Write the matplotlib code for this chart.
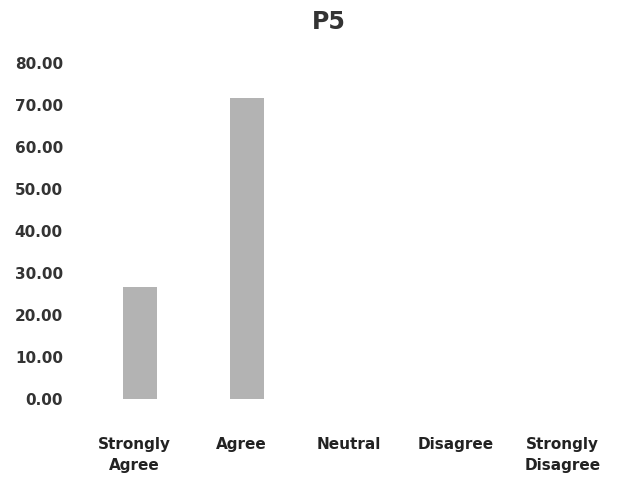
import matplotlib
matplotlib.use("Agg")
import matplotlib.pyplot as plt

categories = ["Strongly\nAgree", "Agree", "Neutral", "Disagree", "Strongly\nDisagree"]
values = [26.67, 71.67, 0.0, 0.0, 0.0]
yticks = [0, 10, 20, 30, 40, 50, 60, 70, 80]

fig = plt.figure(figsize=(6.32, 4.79), dpi=100)
ax = fig.add_axes([0.128, 0.167, 0.847, 0.701])
x = list(range(len(categories)))
ax.bar([i + 0.05 for i in x], values, width=0.32, color="#b3b3b3")
ax.set_xlim(-0.5, len(categories) - 0.5)
ax.set_ylim(0, 80)
ax.set_yticks(yticks)
ax.set_yticklabels([f"{v:.2f}" for v in yticks], fontsize=11, fontweight="bold", color="#333333")
ax.set_xticks(x)
ax.set_xticklabels(categories, fontsize=11, fontweight="bold", color="#222222", linespacing=1.5)
for s in ax.spines.values():
    s.set_visible(False)
ax.tick_params(axis="y", length=0, pad=13)
ax.tick_params(axis="x", length=0, pad=27)
fig.text(0.52, 0.955, "P5", ha="center", va="center", fontsize=17, fontweight="bold", color="#333333")
fig.savefig("out.png", dpi=100)
